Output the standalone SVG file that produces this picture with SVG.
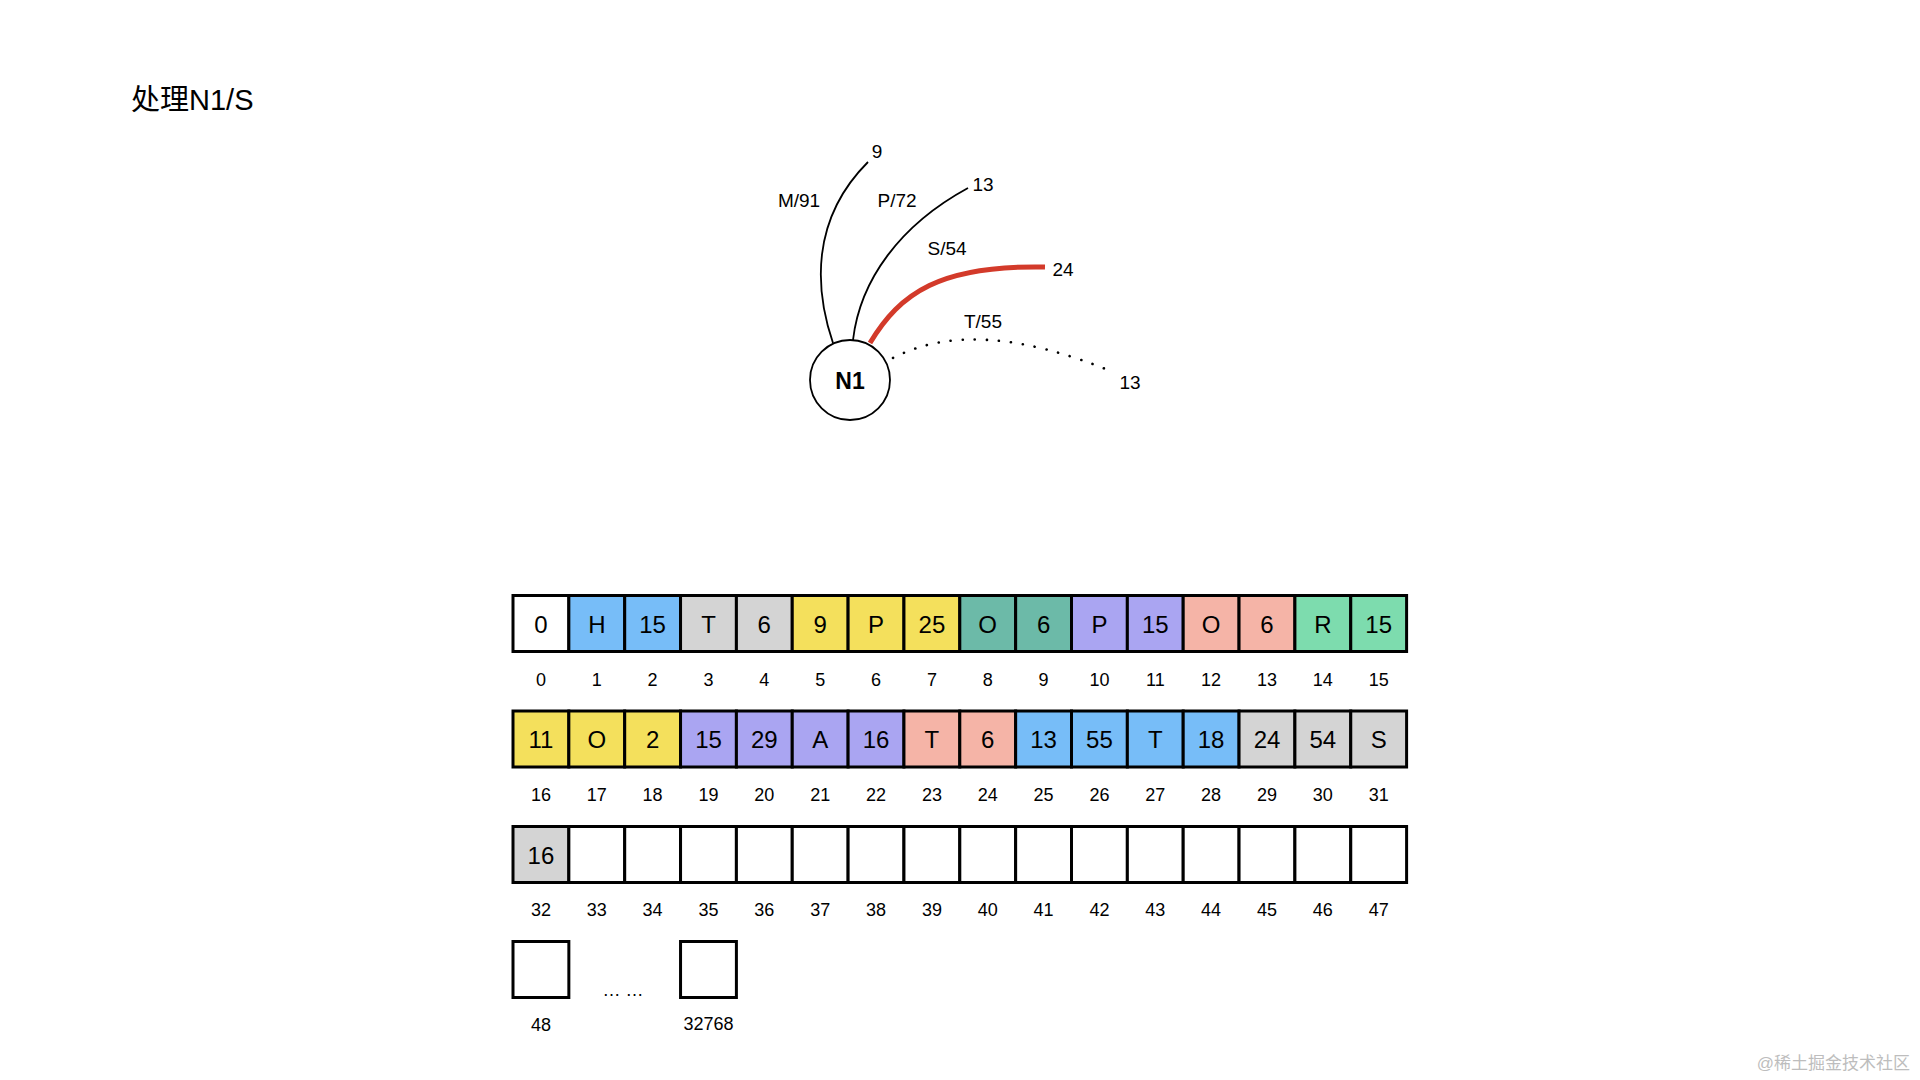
<svg xmlns="http://www.w3.org/2000/svg" width="1920" height="1080" viewBox="0 0 1920 1080">
<style>
text{font-family:"Liberation Sans",Arial,"Noto Sans CJK SC",sans-serif;fill:#000}
.c{stroke:#000;stroke-width:3}
.w{fill:#fff}.b{fill:#77bdf8}.g{fill:#d4d4d4}.y{fill:#f4e05c}.t{fill:#6cbaa8}.p{fill:#aaa5f2}.k{fill:#f5b4a7}.n{fill:#7ddcae}
.v{font-size:24px;text-anchor:middle;dominant-baseline:central}
.i{font-size:18px;text-anchor:middle;dominant-baseline:central}
.e{font-size:19px;text-anchor:middle;dominant-baseline:central}
</style>
<rect width="1920" height="1080" fill="#fff"/>
<text x="131" y="110" font-size="29" font-family="'Liberation Sans','Noto Sans CJK SC',sans-serif">处理N1/S</text>

<g id="connectors" fill="none">
<path d="M833,343 C815,290 810,220 868,162" stroke="#000" stroke-width="1.8"/>
<path d="M853,340 C860,280 900,225 968,188" stroke="#000" stroke-width="1.8"/>
<path d="M870,343 C900,293 940,265 1045,267" stroke="#d33a2a" stroke-width="5"/>
<path d="M893,358 Q975,315 1113,372" stroke="#000" stroke-width="2.6" stroke-dasharray="0.1 12" stroke-linecap="round"/>
</g>
<g id="edge-labels">
<text class="e" x="799" y="200">M/91</text>
<text class="e" x="877" y="151">9</text>
<text class="e" x="897" y="200">P/72</text>
<text class="e" x="983" y="184">13</text>
<text class="e" x="947" y="248">S/54</text>
<text class="e" x="1063" y="269">24</text>
<text class="e" x="983" y="321">T/55</text>
<text class="e" x="1130" y="382">13</text>
</g>
<g id="node-N1">
<circle cx="850" cy="380" r="40" fill="#fff" stroke="#000" stroke-width="1.8"/>
<text x="850" y="381" font-size="23" font-weight="bold" text-anchor="middle" dominant-baseline="central">N1</text>
</g>

<g id="row0">
<rect class="c w" x="513" y="595.5" width="55.85" height="56"/>
<rect class="c b" x="568.85" y="595.5" width="55.85" height="56"/>
<rect class="c b" x="624.7" y="595.5" width="55.85" height="56"/>
<rect class="c g" x="680.55" y="595.5" width="55.85" height="56"/>
<rect class="c g" x="736.4" y="595.5" width="55.85" height="56"/>
<rect class="c y" x="792.25" y="595.5" width="55.85" height="56"/>
<rect class="c y" x="848.1" y="595.5" width="55.85" height="56"/>
<rect class="c y" x="903.95" y="595.5" width="55.85" height="56"/>
<rect class="c t" x="959.8" y="595.5" width="55.85" height="56"/>
<rect class="c t" x="1015.65" y="595.5" width="55.85" height="56"/>
<rect class="c p" x="1071.5" y="595.5" width="55.85" height="56"/>
<rect class="c p" x="1127.35" y="595.5" width="55.85" height="56"/>
<rect class="c k" x="1183.2" y="595.5" width="55.85" height="56"/>
<rect class="c k" x="1239.05" y="595.5" width="55.85" height="56"/>
<rect class="c n" x="1294.9" y="595.5" width="55.85" height="56"/>
<rect class="c n" x="1350.75" y="595.5" width="55.85" height="56"/>
<text class="v" x="540.9" y="624">0</text>
<text class="v" x="596.8" y="624">H</text>
<text class="v" x="652.6" y="624">15</text>
<text class="v" x="708.5" y="624">T</text>
<text class="v" x="764.3" y="624">6</text>
<text class="v" x="820.2" y="624">9</text>
<text class="v" x="876" y="624">P</text>
<text class="v" x="931.9" y="624">25</text>
<text class="v" x="987.7" y="624">O</text>
<text class="v" x="1043.6" y="624">6</text>
<text class="v" x="1099.4" y="624">P</text>
<text class="v" x="1155.3" y="624">15</text>
<text class="v" x="1211.1" y="624">O</text>
<text class="v" x="1267" y="624">6</text>
<text class="v" x="1322.8" y="624">R</text>
<text class="v" x="1378.7" y="624">15</text>
<text class="i" x="540.9" y="680">0</text>
<text class="i" x="596.8" y="680">1</text>
<text class="i" x="652.6" y="680">2</text>
<text class="i" x="708.5" y="680">3</text>
<text class="i" x="764.3" y="680">4</text>
<text class="i" x="820.2" y="680">5</text>
<text class="i" x="876" y="680">6</text>
<text class="i" x="931.9" y="680">7</text>
<text class="i" x="987.7" y="680">8</text>
<text class="i" x="1043.6" y="680">9</text>
<text class="i" x="1099.4" y="680">10</text>
<text class="i" x="1155.3" y="680">11</text>
<text class="i" x="1211.1" y="680">12</text>
<text class="i" x="1267" y="680">13</text>
<text class="i" x="1322.8" y="680">14</text>
<text class="i" x="1378.7" y="680">15</text>
</g>

<g id="row1">
<rect class="c y" x="513" y="711" width="55.85" height="56"/>
<rect class="c y" x="568.85" y="711" width="55.85" height="56"/>
<rect class="c y" x="624.7" y="711" width="55.85" height="56"/>
<rect class="c p" x="680.55" y="711" width="55.85" height="56"/>
<rect class="c p" x="736.4" y="711" width="55.85" height="56"/>
<rect class="c p" x="792.25" y="711" width="55.85" height="56"/>
<rect class="c p" x="848.1" y="711" width="55.85" height="56"/>
<rect class="c k" x="903.95" y="711" width="55.85" height="56"/>
<rect class="c k" x="959.8" y="711" width="55.85" height="56"/>
<rect class="c b" x="1015.65" y="711" width="55.85" height="56"/>
<rect class="c b" x="1071.5" y="711" width="55.85" height="56"/>
<rect class="c b" x="1127.35" y="711" width="55.85" height="56"/>
<rect class="c b" x="1183.2" y="711" width="55.85" height="56"/>
<rect class="c g" x="1239.05" y="711" width="55.85" height="56"/>
<rect class="c g" x="1294.9" y="711" width="55.85" height="56"/>
<rect class="c g" x="1350.75" y="711" width="55.85" height="56"/>
<text class="v" x="540.9" y="739.5">11</text>
<text class="v" x="596.8" y="739.5">O</text>
<text class="v" x="652.6" y="739.5">2</text>
<text class="v" x="708.5" y="739.5">15</text>
<text class="v" x="764.3" y="739.5">29</text>
<text class="v" x="820.2" y="739.5">A</text>
<text class="v" x="876" y="739.5">16</text>
<text class="v" x="931.9" y="739.5">T</text>
<text class="v" x="987.7" y="739.5">6</text>
<text class="v" x="1043.6" y="739.5">13</text>
<text class="v" x="1099.4" y="739.5">55</text>
<text class="v" x="1155.3" y="739.5">T</text>
<text class="v" x="1211.1" y="739.5">18</text>
<text class="v" x="1267" y="739.5">24</text>
<text class="v" x="1322.8" y="739.5">54</text>
<text class="v" x="1378.7" y="739.5">S</text>
<text class="i" x="540.9" y="795">16</text>
<text class="i" x="596.8" y="795">17</text>
<text class="i" x="652.6" y="795">18</text>
<text class="i" x="708.5" y="795">19</text>
<text class="i" x="764.3" y="795">20</text>
<text class="i" x="820.2" y="795">21</text>
<text class="i" x="876" y="795">22</text>
<text class="i" x="931.9" y="795">23</text>
<text class="i" x="987.7" y="795">24</text>
<text class="i" x="1043.6" y="795">25</text>
<text class="i" x="1099.4" y="795">26</text>
<text class="i" x="1155.3" y="795">27</text>
<text class="i" x="1211.1" y="795">28</text>
<text class="i" x="1267" y="795">29</text>
<text class="i" x="1322.8" y="795">30</text>
<text class="i" x="1378.7" y="795">31</text>
</g>

<g id="row2">
<rect class="c g" x="513" y="826.5" width="55.85" height="56"/>
<rect class="c w" x="568.85" y="826.5" width="55.85" height="56"/>
<rect class="c w" x="624.7" y="826.5" width="55.85" height="56"/>
<rect class="c w" x="680.55" y="826.5" width="55.85" height="56"/>
<rect class="c w" x="736.4" y="826.5" width="55.85" height="56"/>
<rect class="c w" x="792.25" y="826.5" width="55.85" height="56"/>
<rect class="c w" x="848.1" y="826.5" width="55.85" height="56"/>
<rect class="c w" x="903.95" y="826.5" width="55.85" height="56"/>
<rect class="c w" x="959.8" y="826.5" width="55.85" height="56"/>
<rect class="c w" x="1015.65" y="826.5" width="55.85" height="56"/>
<rect class="c w" x="1071.5" y="826.5" width="55.85" height="56"/>
<rect class="c w" x="1127.35" y="826.5" width="55.85" height="56"/>
<rect class="c w" x="1183.2" y="826.5" width="55.85" height="56"/>
<rect class="c w" x="1239.05" y="826.5" width="55.85" height="56"/>
<rect class="c w" x="1294.9" y="826.5" width="55.85" height="56"/>
<rect class="c w" x="1350.75" y="826.5" width="55.85" height="56"/>
<text class="v" x="540.9" y="855">16</text>
<text class="i" x="540.9" y="910">32</text>
<text class="i" x="596.8" y="910">33</text>
<text class="i" x="652.6" y="910">34</text>
<text class="i" x="708.5" y="910">35</text>
<text class="i" x="764.3" y="910">36</text>
<text class="i" x="820.2" y="910">37</text>
<text class="i" x="876" y="910">38</text>
<text class="i" x="931.9" y="910">39</text>
<text class="i" x="987.7" y="910">40</text>
<text class="i" x="1043.6" y="910">41</text>
<text class="i" x="1099.4" y="910">42</text>
<text class="i" x="1155.3" y="910">43</text>
<text class="i" x="1211.1" y="910">44</text>
<text class="i" x="1267" y="910">45</text>
<text class="i" x="1322.8" y="910">46</text>
<text class="i" x="1378.7" y="910">47</text>
</g>

<g id="row3">
<rect class="c w" x="513" y="941.5" width="55.85" height="56"/>
<rect class="c w" x="680.55" y="941.5" width="55.85" height="56"/>
<text class="i" x="623" y="990">… …</text>
<text class="i" x="540.9" y="1025">48</text>
<text class="i" x="708.5" y="1024">32768</text>
</g>

<text x="1910" y="1069" font-size="17" text-anchor="end" style="fill:#bdbdbd" font-family="'Noto Sans CJK SC',sans-serif">@稀土掘金技术社区</text>
</svg>
